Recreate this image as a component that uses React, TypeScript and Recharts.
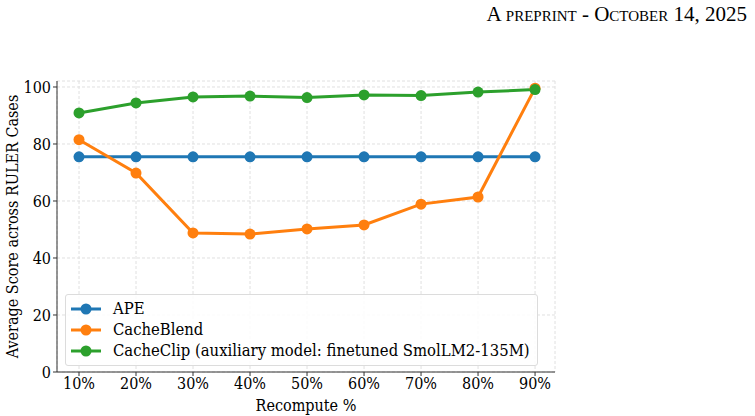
import {
  LineChart,
  Line,
  XAxis,
  YAxis,
  CartesianGrid,
} from "recharts";

// recompute ratio (%) on the x axis
const recompute = [10, 20, 30, 40, 50, 60, 70, 80, 90];

// average score across RULER cases
const ape = [75.5, 75.5, 75.5, 75.5, 75.5, 75.5, 75.5, 75.5, 75.5];
const cacheBlend = [81.5, 69.8, 48.8, 48.4, 50.2, 51.6, 58.9, 61.4, 99.6];
const cacheClip = [90.9, 94.4, 96.5, 96.8, 96.3, 97.2, 97.0, 98.2, 99.1];

const yTicks = [0, 20, 40, 60, 80, 100];

const series = [
  { key: "ape", name: "APE", color: "#1f77b4" },
  { key: "cacheBlend", name: "CacheBlend", color: "#ff7f0e" },
  {
    key: "cacheClip",
    name: "CacheClip (auxiliary model: finetuned SmolLM2-135M)",
    color: "#2ca02c",
  },
];

const data = recompute.map((r, i) => ({
  r,
  ape: ape[i],
  cacheBlend: cacheBlend[i],
  cacheClip: cacheClip[i],
}));

const font = "'DejaVu Serif Condensed', 'DejaVu Serif', serif";
const fs = 16;
const tickStyle = { fontSize: fs, fill: "#000", fontFamily: font };

function LegendBox() {
  return (
    <div
      style={{
        position: "absolute",
        left: 65,
        top: 294,
        width: 473,
        height: 72,
        boxSizing: "border-box",
        border: "1px solid #dcdcdc",
        borderRadius: 3,
        background: "rgba(255,255,255,0.85)",
        padding: "3px 2px 3px 3px",
        fontFamily: font,
        fontSize: 16.5,
        color: "#000",
        whiteSpace: "nowrap",
      }}
    >
      {series.map((s) => (
        <div
          key={s.key}
          style={{ display: "flex", alignItems: "center", height: 21 }}
        >
          <svg width={36} height={14} style={{ marginRight: 8, flexShrink: 0 }}>
            <line x1={2} y1={7} x2={32} y2={7} stroke={s.color} strokeWidth={3} />
            <circle cx={17} cy={7} r={5.5} fill={s.color} />
          </svg>
          <span>{s.name}</span>
        </div>
      ))}
    </div>
  );
}

export default function App() {
  return (
    <div
      style={{
        position: "absolute",
        left: 0,
        top: 0,
        width: 755,
        height: 416,
        background: "#fff",
      }}
    >
      <div
        style={{
          position: "absolute",
          right: 8,
          top: 2,
          fontFamily: "'Liberation Serif', serif",
          fontSize: 21,
          fontVariant: "small-caps",
          color: "#000",
          whiteSpace: "nowrap",
        }}
      >
        A preprint - October 14, 2025
      </div>
      <LineChart
        width={755}
        height={416}
        data={data}
        margin={{ top: 81, right: 200, bottom: 4, left: 7 }}
      >
        <CartesianGrid stroke="#e0e0e0" strokeDasharray="3 2" />
        <XAxis
          dataKey="r"
          type="number"
          domain={[6.14, 93.5]}
          ticks={recompute}
          tickFormatter={(v) => `${v}%`}
          tick={tickStyle}
          tickSize={4}
          tickLine={{ stroke: "#333" }}
          axisLine={{ stroke: "#333" }}
          height={40}
          label={{
            value: "Recompute %",
            position: "insideBottom",
            offset: 1,
            style: { fontSize: fs, fontFamily: font, fill: "#000" },
          }}
        />
        <XAxis
          xAxisId="top"
          orientation="top"
          dataKey="r"
          type="number"
          domain={[6.14, 93.5]}
          tick={false}
          tickLine={false}
          axisLine={{ stroke: "#333" }}
          height={0}
        />
        <YAxis
          domain={[0, 102.1]}
          ticks={yTicks}
          tick={tickStyle}
          tickSize={4}
          tickLine={{ stroke: "#333" }}
          axisLine={{ stroke: "#333" }}
          width={50}
          label={{
            value: "Average Score across RULER Cases",
            angle: -90,
            position: "insideLeft",
            offset: 0,
            dx: 5,
            style: {
              fontSize: fs,
              fontFamily: font,
              fill: "#000",
              textAnchor: "middle",
            },
          }}
        />
        <YAxis
          yAxisId="right"
          orientation="right"
          domain={[0, 102.1]}
          tick={false}
          tickLine={false}
          axisLine={{ stroke: "#333" }}
          width={0}
        />
        {series.map((s) => (
          <Line
            key={s.key}
            dataKey={s.key}
            name={s.name}
            stroke={s.color}
            strokeWidth={3}
            dot={{ r: 5.5, fill: s.color, stroke: s.color, strokeWidth: 0 }}
            activeDot={false}
            isAnimationActive={false}
          />
        ))}
      </LineChart>
      <LegendBox />
    </div>
  );
}
